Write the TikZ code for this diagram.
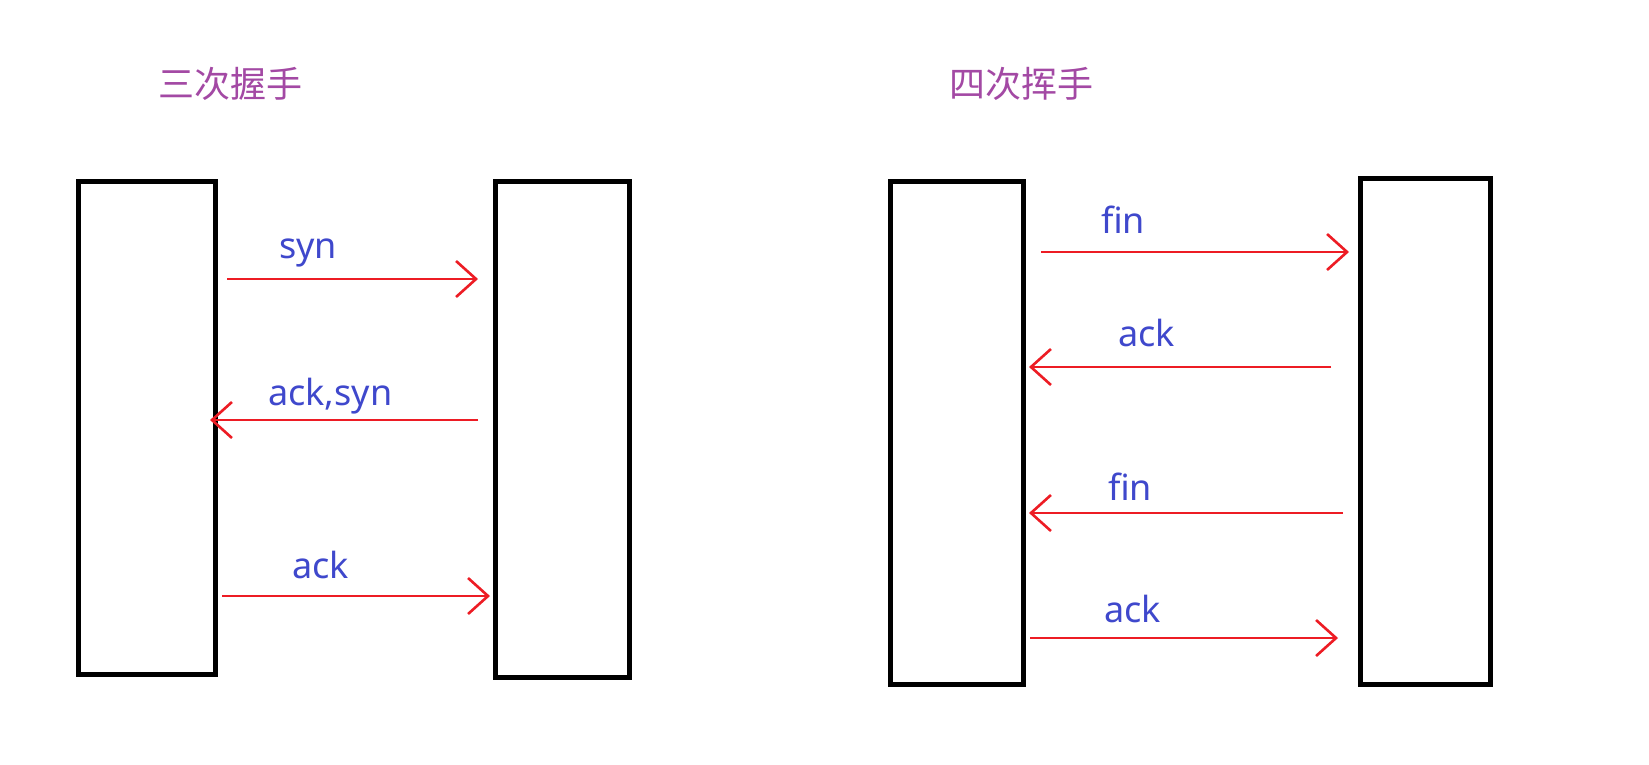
\documentclass[tikz,border=0pt]{standalone}
\usepackage{fontspec}
\setmainfont{Noto Sans}
\newfontfamily\cjk{Noto Sans CJK SC}
\usetikzlibrary{arrows.meta}
\definecolor{ttl}{HTML}{A349A4}
\definecolor{lbl}{HTML}{3F48CC}
\definecolor{arr}{HTML}{ED1C24}
\begin{document}
\begin{tikzpicture}[x=1pt,y=-1pt,
  box/.style={draw=black,line width=5pt,inner sep=0pt,outer sep=0pt},
  msg/.style={draw=arr,line width=2.8pt,-{Straight Barb[length=20pt,width=36pt,line width=2.6pt]}},
  lab/.style={text=lbl,font=\fontsize{36}{40}\selectfont,inner sep=0pt,anchor=base west},
  ttlst/.style={text=ttl,font=\cjk\fontsize{36}{40}\selectfont,inner sep=0pt,anchor=base west}]
\useasboundingbox[fill=white] (0,0) rectangle (1649,764);

% titles
\node[ttlst] (t1) at (158,97) {三次握手};
\node[ttlst] (t2) at (949,97) {四次挥手};

% boxes
\node[box,minimum width=137pt,minimum height=493pt] (A) at (146.5,427.5) {};
\node[box,minimum width=134pt,minimum height=496pt] (B) at (562,429) {};
\node[box,minimum width=133pt,minimum height=503pt] (C) at (956.5,432.5) {};
\node[box,minimum width=130pt,minimum height=506pt] (D) at (1425,431) {};

% three-way handshake
\coordinate (s1) at (227,279);  \coordinate (e1) at (478,279);
\coordinate (s2) at (478,420);  \coordinate (e2) at (210,420);
\coordinate (s3) at (222,596);  \coordinate (e3) at (490,596);
\draw[msg] (s1) -- (e1);
\draw[msg] (s2) -- (e2);
\draw[msg] (s3) -- (e3);
\node[lab] (l1) at (279,258) {syn};
\node[lab] (l2) at (268,405) {ack,syn};
\node[lab] (l3) at (292,578) {ack};

% four-way wave
\coordinate (s4) at (1041,252); \coordinate (e4) at (1349,252);
\coordinate (s5) at (1331,367); \coordinate (e5) at (1029,367);
\coordinate (s6) at (1343,513); \coordinate (e6) at (1029,513);
\coordinate (s7) at (1030,638); \coordinate (e7) at (1338,638);
\draw[msg] (s4) -- (e4);
\draw[msg] (s5) -- (e5);
\draw[msg] (s6) -- (e6);
\draw[msg] (s7) -- (e7);
\node[lab] (l4) at (1101,233) {fin};
\node[lab] (l5) at (1118,346) {ack};
\node[lab] (l6) at (1108,500) {fin};
\node[lab] (l7) at (1104,622) {ack};
\end{tikzpicture}
\end{document}
